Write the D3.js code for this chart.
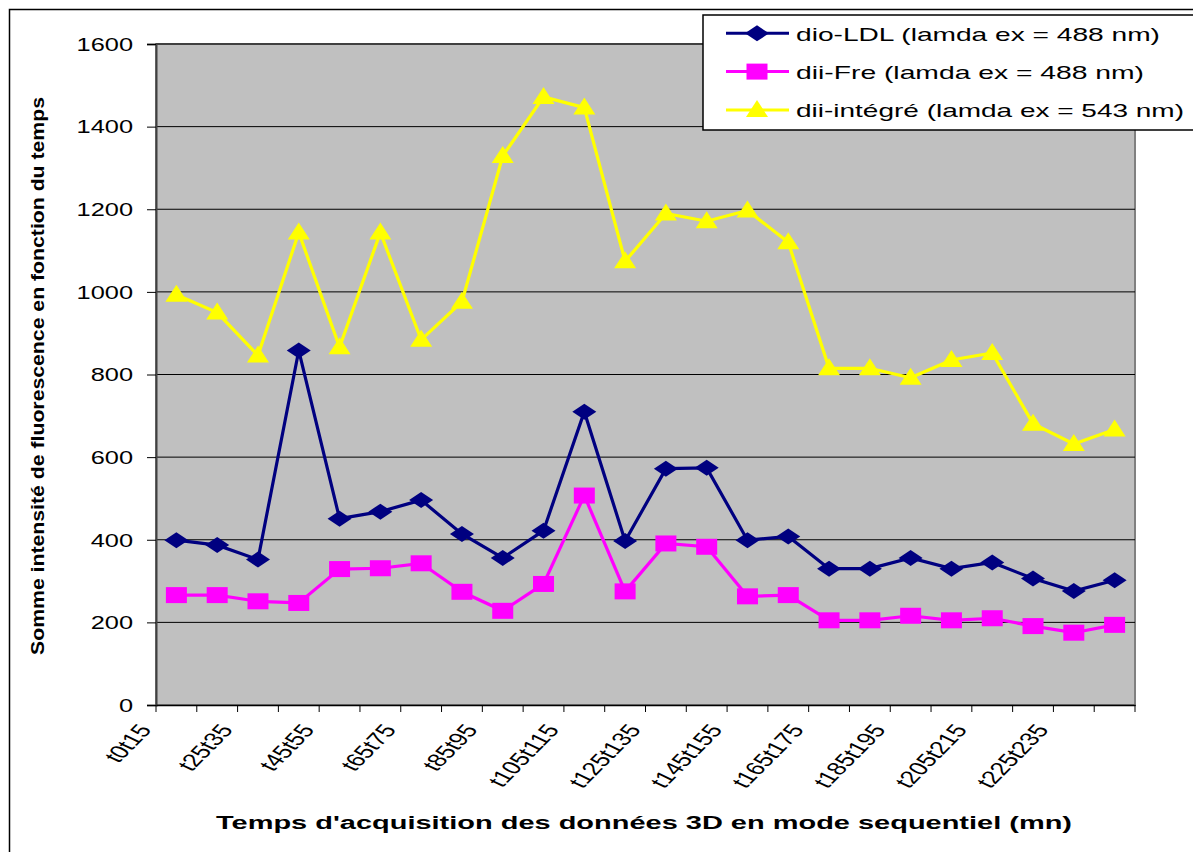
<!DOCTYPE html>
<html><head><meta charset="utf-8">
<script src="https://cdn.jsdelivr.net/npm/d3@7"></script>
<style>
body{margin:0;background:#fff;}
text{font-family:"Liberation Sans",Arial,sans-serif;}
</style></head>
<body><svg id="c" width="1193" height="852"></svg>
<script>
const categories = ["t0t15","t15t25","t25t35","t35t45","t45t55","t55t65","t65t75","t75t85",
  "t85t95","t95t105","t105t115","t115t125","t125t135","t135t145","t145t155","t155t165",
  "t165t175","t175t185","t185t195","t195t205","t205t215","t215t225","t225t235","t235t245"];
const tickLabels = ["t0t15","t25t35","t45t55","t65t75","t85t95","t105t115","t125t135",
  "t145t155","t165t175","t185t195","t205t215","t225t235"];
const yTicks = [0,200,400,600,800,1000,1200,1400,1600];
const dioLDL = [399,387,352,858,451,468,496,414,356,422,710,397,572,574,399,408,330,330,356,330,345,306,276,302];
const diiFre = [266,266,251,247,329,331,343,274,228,293,507,275,391,383,263,266,205,205,216,205,210,191,175,194];
const diiIntegre = [993,950,846,1144,866,1144,884,976,1329,1472,1446,1074,1190,1171,1197,1120,815,815,792,835,852,681,632,667];
const seriesNames = ["dio-LDL (lamda ex = 488 nm)","dii-Fre (lamda ex = 488 nm)","dii-intégré (lamda ex = 543 nm)"];

const series = [
  {name:seriesNames[0], values:dioLDL, color:"#000080", marker:"diamond"},
  {name:seriesNames[1], values:diiFre, color:"#FF00FF", marker:"square"},
  {name:seriesNames[2], values:diiIntegre, color:"#FFFF00", marker:"triangle"}
];

const svg = d3.select("#c");
const L=156, R=1135, T=44, B=705;
const SX = 1.45; // horizontal stretch seen in the reference

svg.append("rect").attr("x",9.5).attr("y",9.5).attr("width",1300).attr("height",900)
  .attr("fill","#fff").attr("stroke","#000").attr("stroke-width",1.5);

const x = d3.scaleBand().domain(categories).range([L,R]).padding(0);
const y = d3.scaleLinear().domain([0,1600]).range([B,T]);

svg.append("rect").attr("x",L).attr("y",T).attr("width",R-L).attr("height",B-T)
  .attr("fill","#C0C0C0").attr("stroke","#808080").attr("stroke-width",2);

// grid
svg.append("g").selectAll("line").data(yTicks.filter(d=>d>0)).join("line")
  .attr("x1",L).attr("x2",R).attr("y1",d=>y(d)).attr("y2",d=>y(d))
  .attr("stroke","#000").attr("stroke-width",1);

// y axis
const yAxis = svg.append("g").attr("transform",`translate(${L},0)`)
  .call(d3.axisLeft(y).tickValues(yTicks).tickSize(9).tickFormat(d3.format("d")));
yAxis.select(".domain").attr("stroke","#404040").attr("stroke-width",2);
yAxis.selectAll(".tick line").attr("stroke","#000");
yAxis.selectAll(".tick text").attr("font-size",17.5).attr("fill","#000")
  .attr("x",0).attr("dy","0.36em")
  .attr("transform",`translate(-23,0) scale(${SX},1)`);

// x axis
const xAxis = svg.append("g").attr("transform",`translate(0,${B})`)
  .call(d3.axisBottom(x).tickSize(0).tickFormat(""));
xAxis.select(".domain").attr("stroke","#000").attr("stroke-width",1.5);
const bounds = categories.map(c=>x(c)).concat([x(categories[categories.length-1])+x.bandwidth()]);
svg.append("g").selectAll("line").data(bounds).join("line")
  .attr("x1",d=>d).attr("x2",d=>d).attr("y1",B).attr("y2",B+7)
  .attr("stroke","#000").attr("stroke-width",1);
svg.append("g").selectAll("text").data(tickLabels).join("text")
  .attr("transform",d=>`translate(${x(d)+x.bandwidth()/2-24},${B+25}) scale(${SX},1) rotate(-55.4)`)
  .attr("text-anchor","end").attr("font-size",18.5).attr("fill","#000")
  .text(d=>d);

// lines + markers
const line = d3.line().x((d,i)=>x(categories[i])+x.bandwidth()/2).y(d=>y(d));
function marker(g, type, color){
  if(type==="diamond") g.append("path").attr("d","M-12,0L0,-8L12,0L0,8Z").attr("fill",color);
  else if(type==="square") g.append("rect").attr("x",-10.5).attr("y",-8).attr("width",21).attr("height",16).attr("fill",color);
  else g.append("path").attr("d","M0,-10L11,7L-11,7Z").attr("fill",color);
}
series.forEach(s=>{
  svg.append("path").datum(s.values).attr("d",line).attr("fill","none")
    .attr("stroke",s.color).attr("stroke-width",3.2).attr("stroke-linejoin","miter");
  s.values.forEach((v,i)=>{
    const g = svg.append("g").attr("transform",`translate(${x(categories[i])+x.bandwidth()/2},${y(v)})`);
    marker(g,s.marker,s.color);
  });
});

// legend
const lg = svg.append("g");
lg.append("rect").attr("x",703).attr("y",15).attr("width",600).attr("height",115)
  .attr("fill","#fff").attr("stroke","#000").attr("stroke-width",1.5);
const legW = [364,348,388];
series.forEach((s,i)=>{
  const yy = 33.3 + i*38.3;
  lg.append("line").attr("x1",726).attr("x2",789).attr("y1",yy).attr("y2",yy)
    .attr("stroke",s.color).attr("stroke-width",3);
  const g = lg.append("g").attr("transform",`translate(757,${yy})`);
  marker(g,s.marker,s.color);
  lg.append("text").attr("x",796).attr("y",yy+7.3).attr("font-size",18.6).attr("fill","#000")
    .attr("textLength",legW[i]).attr("lengthAdjust","spacingAndGlyphs").text(s.name);
});

// axis titles
svg.append("text").attr("x",216).attr("y",829).attr("font-size",18).attr("font-weight","bold")
  .attr("textLength",856).attr("lengthAdjust","spacingAndGlyphs")
  .text("Temps d'acquisition des données 3D en mode sequentiel (mn)");
svg.append("text").attr("transform","translate(44,655) scale(1.25,1) rotate(-90)")
  .attr("font-size",14.5).attr("font-weight","bold")
  .attr("textLength",558).attr("lengthAdjust","spacingAndGlyphs")
  .text("Somme intensité de fluorescence en fonction du temps");
</script></body></html>
